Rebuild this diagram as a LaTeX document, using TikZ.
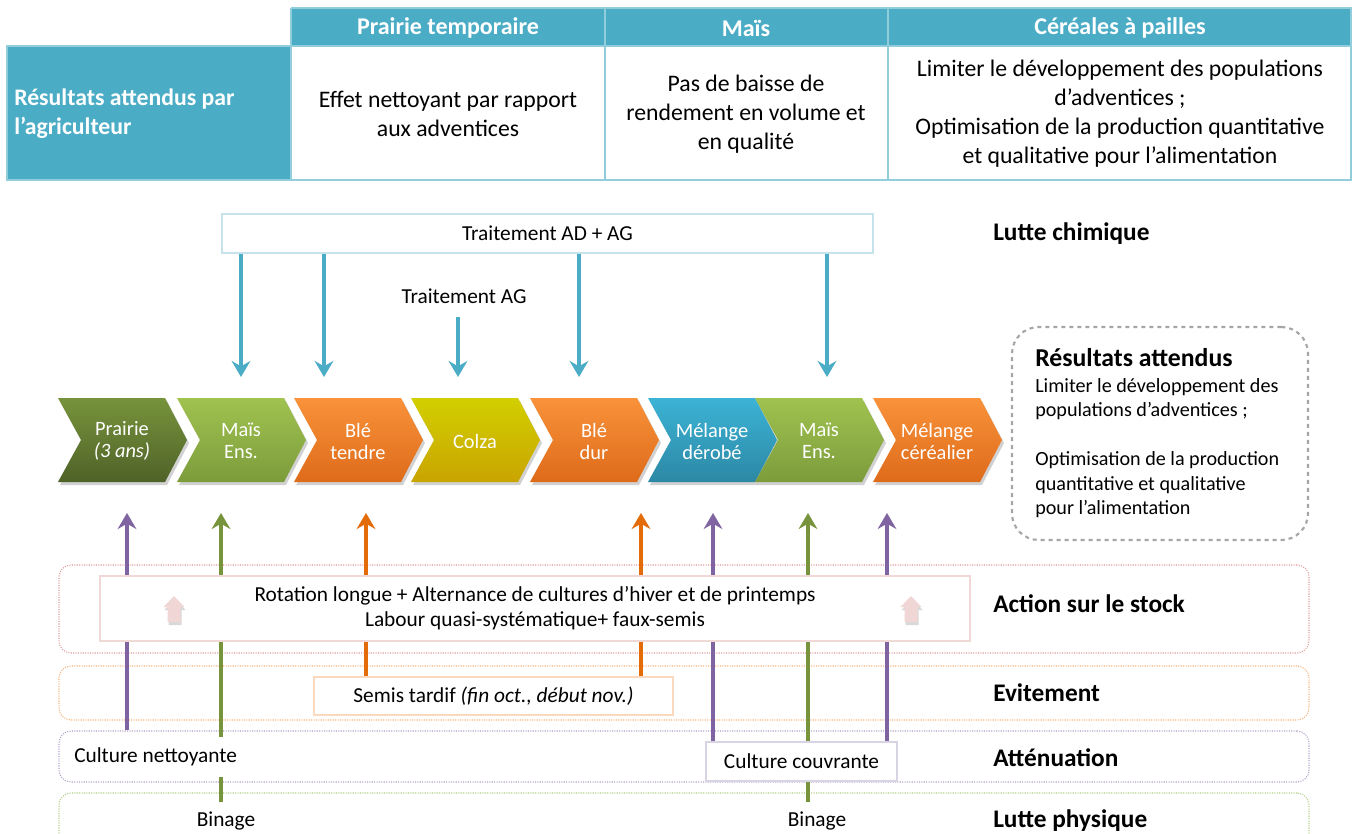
\documentclass[tikz,border=0pt]{standalone}
\usepackage{fontspec}
\setmainfont{Carlito}
\usetikzlibrary{arrows.meta,fit}
\definecolor{tabteal}{HTML}{4BACC6}
\definecolor{tabline}{HTML}{92CDDC}
\definecolor{adagline}{HTML}{C6E3EC}
\definecolor{arrblue}{HTML}{4BACC6}
\definecolor{arrpurple}{HTML}{8064A2}
\definecolor{arrgreen}{HTML}{77933C}
\definecolor{arrorange}{HTML}{E36C09}
\definecolor{bandred}{HTML}{E39A9A}
\definecolor{bandorange}{HTML}{F9B47C}
\definecolor{bandpurple}{HTML}{B3A2C7}
\definecolor{bandgreen}{HTML}{B5CF85}
\definecolor{rotline}{HTML}{F0D8D7}
\definecolor{semisline}{HTML}{FBD9BF}
\definecolor{couvline}{HTML}{D9D4E4}
\definecolor{pinkfill}{HTML}{F0D6D5}
\definecolor{olivetop}{HTML}{77933C}
\definecolor{olivebot}{HTML}{4F6228}
\definecolor{greentop}{HTML}{A0C24F}
\definecolor{greenbot}{HTML}{7C9C3C}
\definecolor{orangetop}{HTML}{F9923A}
\definecolor{orangebot}{HTML}{DE6B1A}
\definecolor{yellowtop}{HTML}{D2CF00}
\definecolor{yellowbot}{HTML}{C9A400}
\definecolor{bluetop}{HTML}{3CB3D6}
\definecolor{bluebot}{HTML}{2C88A4}
\newcommand{\chevshape}[5]{%
  \fill[black,opacity=0.18] ({#1+2},401) -- ({#1+109},401) -- ({#1+131},443) -- ({#1+109},485) -- ({#1+2},485) -- ({#1+25},443) -- cycle;
  \shade[top color=#2,bottom color=#3] (#1,398) -- ({#1+107},398) -- ({#1+129},440) -- ({#1+107},482) -- (#1,482) -- ({#1+23},440) -- cycle;
  \node[chevtext] (#4) at ({#1+64},441) {#5};
}
\newcommand{\pinkarr}[1]{%
  \fill[black,opacity=0.15] ({#1+1},599) -- ({#1+11.5},610) -- ({#1+7.5},610) -- ({#1+7.5},625) -- ({#1-5.5},625) -- ({#1-5.5},610) -- ({#1-9.5},610) -- cycle;
  \fill[pinkfill] (#1,596) -- ({#1+10.5},607) -- ({#1+6.5},607) -- ({#1+6.5},622) -- ({#1-6.5},622) -- ({#1-6.5},607) -- ({#1-10.5},607) -- cycle;
}
\begin{document}
\begin{tikzpicture}[x=0.75pt,y=-0.75pt,
  hdr/.style={text=white,font=\fontsize{18}{21}\selectfont\bfseries},
  cell/.style={align=center,font=\fontsize{17.8}{21.75}\selectfont},
  txt/.style={align=center,font=\fontsize{16}{18.75}\selectfont},
  chevtext/.style={text=white,align=center,font=\fontsize{15.3}{16.5}\selectfont},
  rlabel/.style={anchor=west,font=\fontsize{19}{22}\selectfont\bfseries,inner sep=0},
  band/.style={rounded corners=9pt,densely dotted,line width=0.8pt,inner sep=0},
  tbox/.style={fill=white,inner sep=0,line width=0.9pt},
  arr/.style={line width=3.5pt,-{Stealth[length=12pt,width=14pt,inset=4pt]}},
]
\useasboundingbox (0,0) rectangle (1356,834);
\fill[white] (0,0) rectangle (1356,834);

% ---------- table ----------
\fill[tabteal] (291,8) rectangle (1351,46);
\fill[tabteal] (7,46) rectangle (291,180);
\draw[tabline,line width=1.5pt] (291,8) -- (1351,8) -- (1351,180) -- (7,180) -- (7,46) -- (1351,46);
\draw[tabline,line width=1.5pt] (291,8) -- (291,180);
\draw[tabline,line width=1.5pt] (605,8) -- (605,180);
\draw[tabline,line width=1.5pt] (888,8) -- (888,180);
\node[hdr] (h1) at (448,28) {Prairie temporaire};
\node[hdr] (h2) at (746,28) {Maïs};
\node[hdr] (h3) at (1120,28) {Céréales à pailles};
\node[cell,text=white,align=left,anchor=west,inner sep=0,font=\fontsize{17.8}{21.75}\selectfont\bfseries] (rl) at (14,114) {Résultats attendus par\\l’agriculteur};
\node[cell] (c1) at (448,114) {Effet nettoyant par rapport\\aux adventices};
\node[cell] (c2) at (746,114) {Pas de baisse de\\rendement en volume et\\en qualité};
\node[cell] (c3) at (1120,114) {Limiter le développement des populations\\d’adventices ;\\Optimisation de la production quantitative\\et qualitative pour l’alimentation};

% ---------- chemical control ----------
\node[tbox,draw=adagline,fit={(222,214)(873,253)}] (adag) {};
\node[txt] (adagt) at (adag.center) {Traitement AD + AG};
\node[rlabel] (lchim) at (993,234) {Lutte chimique};
\node[txt] (ag) at (464,296) {Traitement AG};
\coordinate (ta1) at (241,377);
\coordinate (ta2) at (324,377);
\coordinate (ta3) at (579,377);
\coordinate (ta4) at (827,377);
\coordinate (tg) at (458,377);
\coordinate (tgs) at (458,317);
\draw[arr,arrblue] (adag.south -| ta1) -- (ta1);
\draw[arr,arrblue] (adag.south -| ta2) -- (ta2);
\draw[arr,arrblue] (adag.south -| ta3) -- (ta3);
\draw[arr,arrblue] (adag.south -| ta4) -- (ta4);
\draw[arr,arrblue] (tgs) -- (tg);

% ---------- rotation chevrons ----------
\chevshape{58}{olivetop}{olivebot}{prairie}{Prairie\\\textit{(3 ans)}}
\chevshape{177}{greentop}{greenbot}{mais1}{Maïs\\Ens.}
\chevshape{294}{orangetop}{orangebot}{bletendre}{Blé\\tendre}
\chevshape{411}{yellowtop}{yellowbot}{colza}{Colza}
\chevshape{530}{orangetop}{orangebot}{bledur}{Blé\\dur}
\chevshape{648}{bluetop}{bluebot}{derobe}{Mélange\\dérobé}
\chevshape{755}{greentop}{greenbot}{mais2}{Maïs\\Ens.}
\chevshape{873}{orangetop}{orangebot}{cerealier}{Mélange\\céréalier}

% ---------- expected results ----------
\node[draw=black!35,dashed,line width=1.6pt,rounded corners=20pt,fit={(1012,327)(1308,540)},inner sep=0] (res) {};
\node[anchor=west,inner sep=0,font=\fontsize{19.3}{22}\selectfont\bfseries] (rest) at (1035,358) {Résultats attendus};
\node[anchor=west,inner sep=0,align=left,font=\fontsize{15.1}{18.4}\selectfont] (resb) at (1035,448) {Limiter le développement des\\populations d’adventices ;\\\mbox{}\\Optimisation de la production\\quantitative et qualitative\\pour l’alimentation};

% ---------- bands ----------
\node[band,draw=bandred,fit={(59,565)(1309,653)}] (actband) {};
\node[band,draw=bandorange,fit={(59,666)(1309,720)}] (evband) {};
\node[band,draw=bandpurple,fit={(59,731)(1309,782)}] (attband) {};
\node[band,draw=bandgreen,fit={(59,793)(1309,860)}] (lpband) {};

% ---------- connectors from the control levels ----------
\coordinate (u1) at (127,513);
\coordinate (u2) at (221,513);
\coordinate (u3) at (366,513);
\coordinate (u4) at (641,513);
\coordinate (u5) at (713,513);
\coordinate (u6) at (808,513);
\coordinate (u7) at (887,513);
\coordinate (bin1) at (221,802);
\coordinate (bin2) at (808,802);
\coordinate (semtop) at (493,676);
\coordinate (couvtop) at (800,742);

\draw[arr,arrpurple] (attband.north -| u1) -- (u1);
\draw[arr,arrgreen] (bin1) -- (u2);
\draw[arr,arrorange] (semtop -| u3) -- (u3);
\draw[arr,arrorange] (semtop -| u4) -- (u4);
\draw[arr,arrpurple] (couvtop -| u5) -- (u5);
\draw[arr,arrgreen] (bin2) -- (u6);
\draw[arr,arrpurple] (couvtop -| u7) -- (u7);

\node[tbox,draw=rotline,fit={(100,576)(970,641)}] (rot) {};
\node[txt] (rott) at (rot.center) {Rotation longue + Alternance de cultures d’hiver et de printemps\\Labour quasi-systématique+ faux-semis};
\pinkarr{174}
\pinkarr{911}
\node[tbox,draw=semisline,fit={(314,677)(673,715)}] (semis) {};
\node[txt] (semist) at (semis.center) {Semis tardif \textit{(fin oct., début nov.)}};
\node[tbox,draw=couvline,fit={(706,742)(897,781)}] (couv) {};
\node[txt] (couvt) at (couv.center) {Culture couvrante};
\node[txt,fill=white,anchor=west,inner xsep=0,minimum height=30pt] (nett) at (74,757) {Culture nettoyante};
\node[txt] (binage1) at (226,821) {Binage};
\node[txt] (binage2) at (817,821) {Binage};

% ---------- right labels ----------
\node[rlabel] (lact) at (993,604) {Action sur le stock};
\node[rlabel] (lev) at (993,693) {Evitement};
\node[rlabel] (latt) at (993,758) {Atténuation};
\node[rlabel] (lphys) at (993,821) {Lutte physique};
\end{tikzpicture}
\end{document}
